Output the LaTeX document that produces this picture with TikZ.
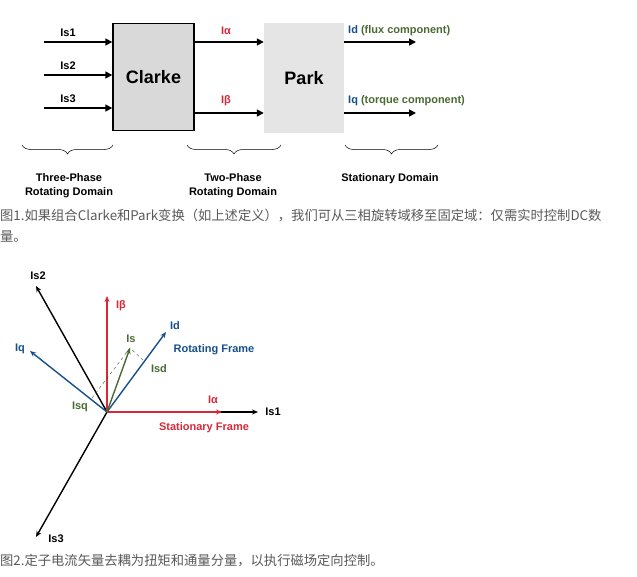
\documentclass[tikz,border=0pt]{standalone}
\usepackage{fontspec}
\setmainfont{Liberation Sans}
\newfontfamily\cjk{Noto Sans CJK SC}
\usetikzlibrary{arrows.meta,decorations.pathreplacing}
\definecolor{rd}{RGB}{214,40,57}
\definecolor{bl}{RGB}{22,80,140}
\definecolor{gr}{RGB}{75,105,50}
\begin{document}
\begin{tikzpicture}[x=1pt,y=-1pt,
 ar/.style={line width=1.6pt,-{Triangle[length=7pt,width=7pt]}},
 va/.style={line width=1.4pt,-{Stealth[length=6pt,width=5pt]}},
 lb/.style={font=\bfseries\fontsize{11}{14}\selectfont,inner sep=0pt},
 br/.style={decorate,decoration={brace,amplitude=9pt},line width=0.5pt},
 capt/.style={font=\cjk\itshape\fontsize{13.3}{15}\selectfont,inner sep=0pt,anchor=west,gray!70!black}]
\useasboundingbox (0,0) rectangle (637,576);
% top
\node[draw,line width=1.4pt,fill=black!15,minimum width=81pt,minimum height=107pt,font=\bfseries\fontsize{18}{20}\selectfont] (cl) at (153.5,77) {Clarke};
\node[fill=black!10,minimum width=80pt,minimum height=110pt,font=\bfseries\fontsize{18}{20}\selectfont] (pk) at (304,78) {Park};
\foreach \y/\t in {42/1,75/2,108/3}{
 \coordinate (i\t) at (44,\y);
 \draw[ar] (i\t) -- (cl.west |- i\t);
 \node[lb] (li\t) at (68,\y-9) {Is\t};}
\coordinate (a0) at (cl.east |- 0,42); \coordinate (b0) at (cl.east |- 0,113);
\draw[ar] (a0) -- (pk.west |- a0); \draw[ar] (b0) -- (pk.west |- b0);
\node[lb,rd] (la) at (226,31) {Iα};
\node[lb,rd] (lbt) at (226,101) {Iβ};
\coordinate (d1) at (416,42); \coordinate (q1) at (416,113);
\draw[ar] (pk.east |- d1) -- (d1); \draw[ar] (pk.east |- q1) -- (q1);
\node[lb,anchor=west] (ld) at (348,31) {\textcolor{bl}{Id} \textcolor{gr}{(flux component)}};
\node[lb,anchor=west] (lq) at (348,101) {\textcolor{bl}{Iq} \textcolor{gr}{(torque component)}};
\draw[br] (113,145) -- (22,145); \draw[br] (281,145) -- (187,145); \draw[br] (438,145) -- (345,145);
\node[lb,align=center] (t1) at (69,186) {Three-Phase\\Rotating Domain};
\node[lb,align=center] (t2) at (233,186) {Two-Phase\\Rotating Domain};
\node[lb] (t3) at (390,179) {Stationary Domain};
\node[capt] (c1) at (0,216) {图1.如果组合Clarke和Park变换（如上述定义），我们可从三相旋转域移至固定域：仅需实时控制DC数};
\node[capt] (c2) at (0,237) {量。};
% bottom
\coordinate (o) at (107,412);
\coordinate (s1) at (258,412); \coordinate (s2) at (36,286); \coordinate (s3) at (36,537);
\draw[va] (o) -- (s1); \draw[va] (o) -- (s2); \draw[va] (o) -- (s3);
\node[lb] (ls1) at (273,412) {Is1}; \node[lb] (ls2) at (38,276) {Is2}; \node[lb] (ls3) at (56,539) {Is3};
\coordinate (al) at (222,412); \coordinate (be) at (107,296);
\draw[va,rd] (o) -- (al); \draw[va,rd] (o) -- (be);
\node[lb,rd] (lal) at (213,400) {Iα};
\node[lb,rd] (lbe) at (121,306) {Iβ};
\node[lb,rd] (sf) at (204,428) {Stationary Frame};
\coordinate (dd) at (166,332); \coordinate (qq) at (30,351);
\draw[va,bl] (o) -- (dd); \draw[va,bl] (o) -- (qq);
\node[lb,bl] (ldd) at (175,326) {Id}; \node[lb,bl] (lqq) at (20,349) {Iq};
\node[lb,bl] (rf) at (214,350) {Rotating Frame};
\coordinate (is) at (130,348);
\draw[gr!80!black,dashed,thin] (92,398) -- (is) -- (143,360);
\draw[va,gr] (o) -- (is);
\node[lb,gr] (lis) at (131,339) {Is};
\node[lb,gr] (lsd) at (159,369) {Isd};
\node[lb,gr] (lsq) at (80,407) {Isq};
\node[capt] (c3) at (0,561) {图2.定子电流矢量去耦为扭矩和通量分量，以执行磁场定向控制。};
\end{tikzpicture}
\end{document}
